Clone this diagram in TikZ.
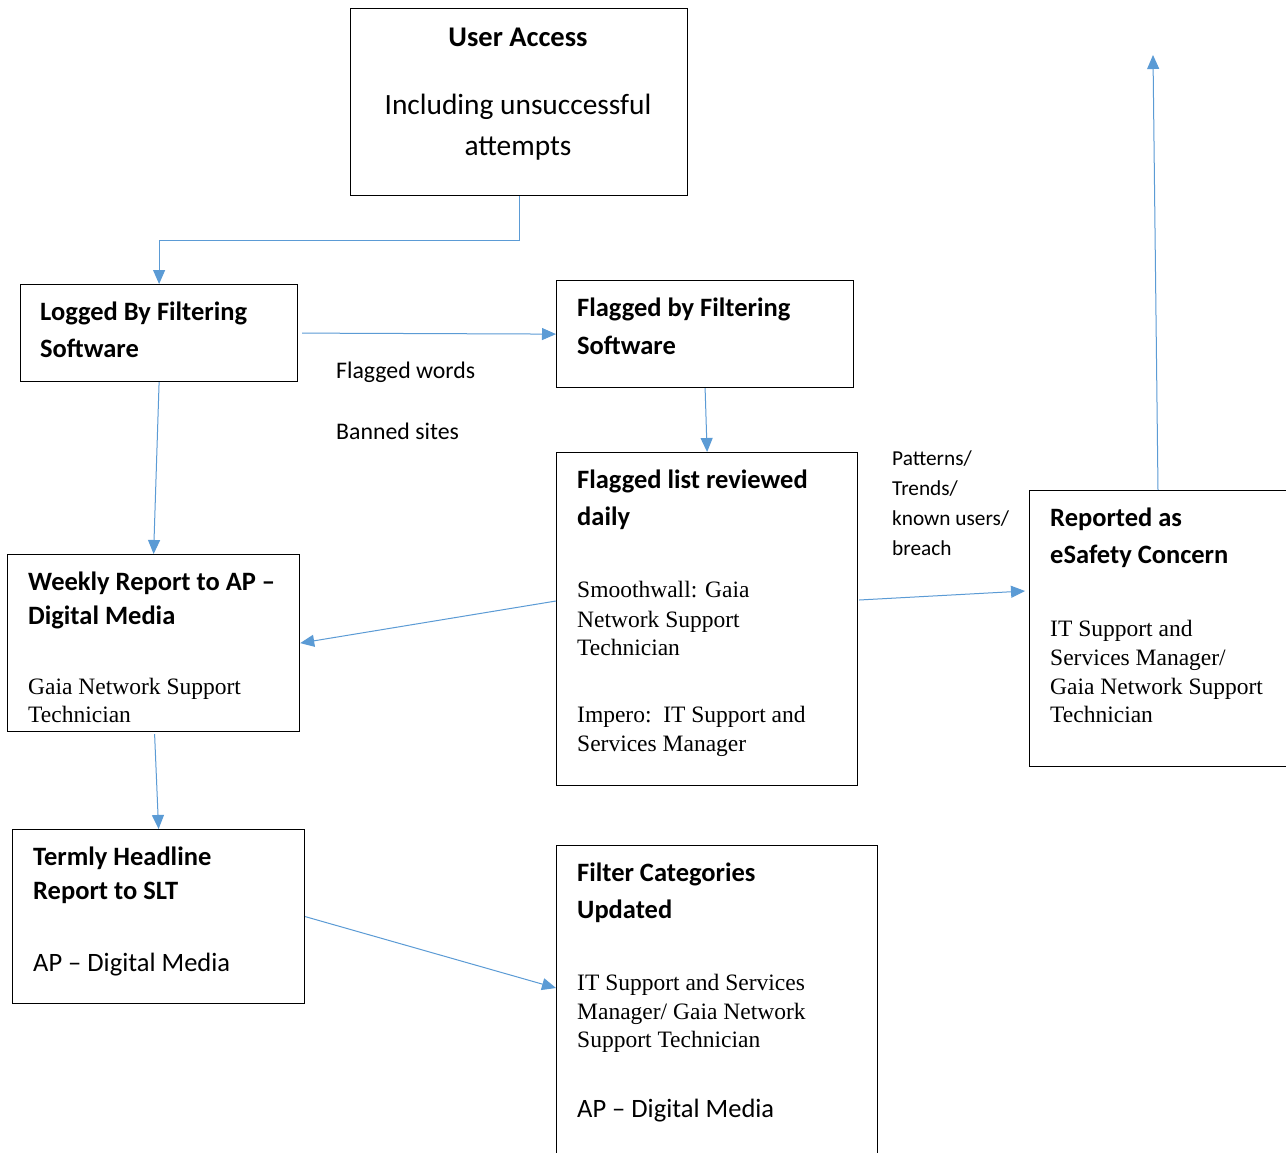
\documentclass[tikz,border=0pt]{standalone}
\usepackage{fontspec}
\setmainfont{Liberation Serif}
\newfontfamily\calfont{Carlito}
\usetikzlibrary{arrows.meta,calc}
\definecolor{arrowblue}{HTML}{5B9BD5}
\begin{document}
\begin{tikzpicture}[x=1pt,y=-1pt,
  box/.style={draw=black,line width=1.2pt,rectangle,anchor=north west,inner sep=0pt},
  lbl/.style={anchor=base west,inner sep=0pt},
  hd/.style={lbl,font=\calfont\bfseries\fontsize{26.5}{30}\selectfont},
  cr/.style={lbl,font=\calfont\fontsize{26.5}{30}\selectfont},
  sm/.style={lbl,font=\calfont\fontsize{23.8}{28}\selectfont},
  pt/.style={lbl,font=\calfont\fontsize{21.3}{25}\selectfont},
  tm/.style={lbl,font=\fontsize{23.5}{28}\selectfont},
  conn/.style={draw=arrowblue,line width=1pt,-{Triangle[length=14pt,width=12pt]}}
]
\useasboundingbox (0,0) rectangle (1286,1153);
\fill[white] (0,0) rectangle (1286,1153);

% boxes
\node[box,minimum width=337,minimum height=187] (ua) at (350,8) {};
\node[box,minimum width=277,minimum height=97] (lg) at (20,284) {};
\node[box,minimum width=297,minimum height=107] (fb) at (556,280) {};
\node[box,minimum width=301,minimum height=333] (fl) at (556,452) {};
\node[box,minimum width=292,minimum height=177] (wk) at (7,554) {};
\node[box,minimum width=270,minimum height=276] (rp) at (1029,490) {};
\node[box,minimum width=292,minimum height=174] (tr) at (12,829) {};
\node[box,minimum width=321,minimum height=330] (fc) at (556,845) {};

% User Access
\node[lbl,font=\calfont\bfseries\fontsize{28.5}{32}\selectfont,anchor=base] (ua1) at (518,47) {User Access};
\node[lbl,font=\calfont\fontsize{29.4}{33}\selectfont,anchor=base] (ua2) at (518,115) {Including unsuccessful};
\node[lbl,font=\calfont\fontsize{29.4}{33}\selectfont,anchor=base] (ua3) at (518,156) {attempts};

% Logged
\node[hd] (lg1) at (40,320) {Logged By Filtering};
\node[hd] (lg2) at (40,357) {Software};

% Flagged by filtering
\node[hd] (fb1) at (577,316) {Flagged by Filtering};
\node[hd] (fb2) at (577,354) {Software};

% Flagged list
\node[hd] (fl1) at (577,488) {Flagged list reviewed};
\node[hd] (fl2) at (577,525) {daily};
\node[tm] (fl3) at (577,597) {Smoothwall: Gaia};
\node[tm] (fl4) at (577,627) {Network Support};
\node[tm] (fl5) at (577,655) {Technician};
\node[tm] (fl6) at (577,722) {Impero:\ \ IT Support and};
\node[tm] (fl7) at (577,751) {Services Manager};

% Weekly
\node[hd] (wk1) at (28,590) {Weekly Report to AP \textendash};
\node[hd] (wk2) at (28,624) {Digital Media};
\node[tm] (wk3) at (28,694) {Gaia Network Support};
\node[tm] (wk4) at (28,722) {Technician};

% Reported
\node[hd] (rp1) at (1050,526) {Reported as};
\node[hd] (rp2) at (1050,563) {eSafety Concern};
\node[tm] (rp3) at (1050,636) {IT Support and};
\node[tm] (rp4) at (1050,665) {Services Manager/};
\node[tm] (rp5) at (1050,694) {Gaia Network Support};
\node[tm] (rp6) at (1050,722) {Technician};

% Termly
\node[hd] (tr1) at (33,865) {Termly Headline};
\node[hd] (tr2) at (33,899) {Report to SLT};
\node[cr] (tr3) at (33,971) {AP \textendash\ Digital Media};

% Filter categories
\node[hd] (fc1) at (577,881) {Filter Categories};
\node[hd] (fc2) at (577,918) {Updated};
\node[tm] (fc3) at (577,990) {IT Support and Services};
\node[tm] (fc4) at (577,1019) {Manager/ Gaia Network};
\node[tm] (fc5) at (577,1047) {Support Technician};
\node[cr] (fc6) at (577,1117) {AP \textendash\ Digital Media};

% side labels
\node[sm] (s1) at (336,378) {Flagged words};
\node[sm] (s2) at (336,439) {Banned sites};
\node[pt] (p1) at (892,465) {Patterns/};
\node[pt] (p2) at (892,495) {Trends/};
\node[pt] (p3) at (892,525) {known users/};
\node[pt] (p4) at (892,555) {breach};

% connectors
\coordinate (top) at (1153,55);
\draw[conn] (ua.south) -- ++(0,44) -| (lg.north);
\draw[conn] ($(lg.east)+(4,0)$) -- (fb.west);
\draw[conn] (lg.south) -- (wk.north);
\draw[conn] (fb.south) -- (fl.north);
\draw[conn] ($(fl.north west)+(0,149)$) -- (wk.east);
\draw[conn] ($(fl.north east)+(1,148)$) -- ($(rp.north west)+(-4,101)$);
\draw[conn] ($(rp.north west)+(129,0)$) -- (top);
\draw[conn] ($(wk.south)+(1,2)$) -- (tr.north);
\draw[conn] (tr.east) -- ($(fc.north west)+(0,143)$);
\end{tikzpicture}
\end{document}
